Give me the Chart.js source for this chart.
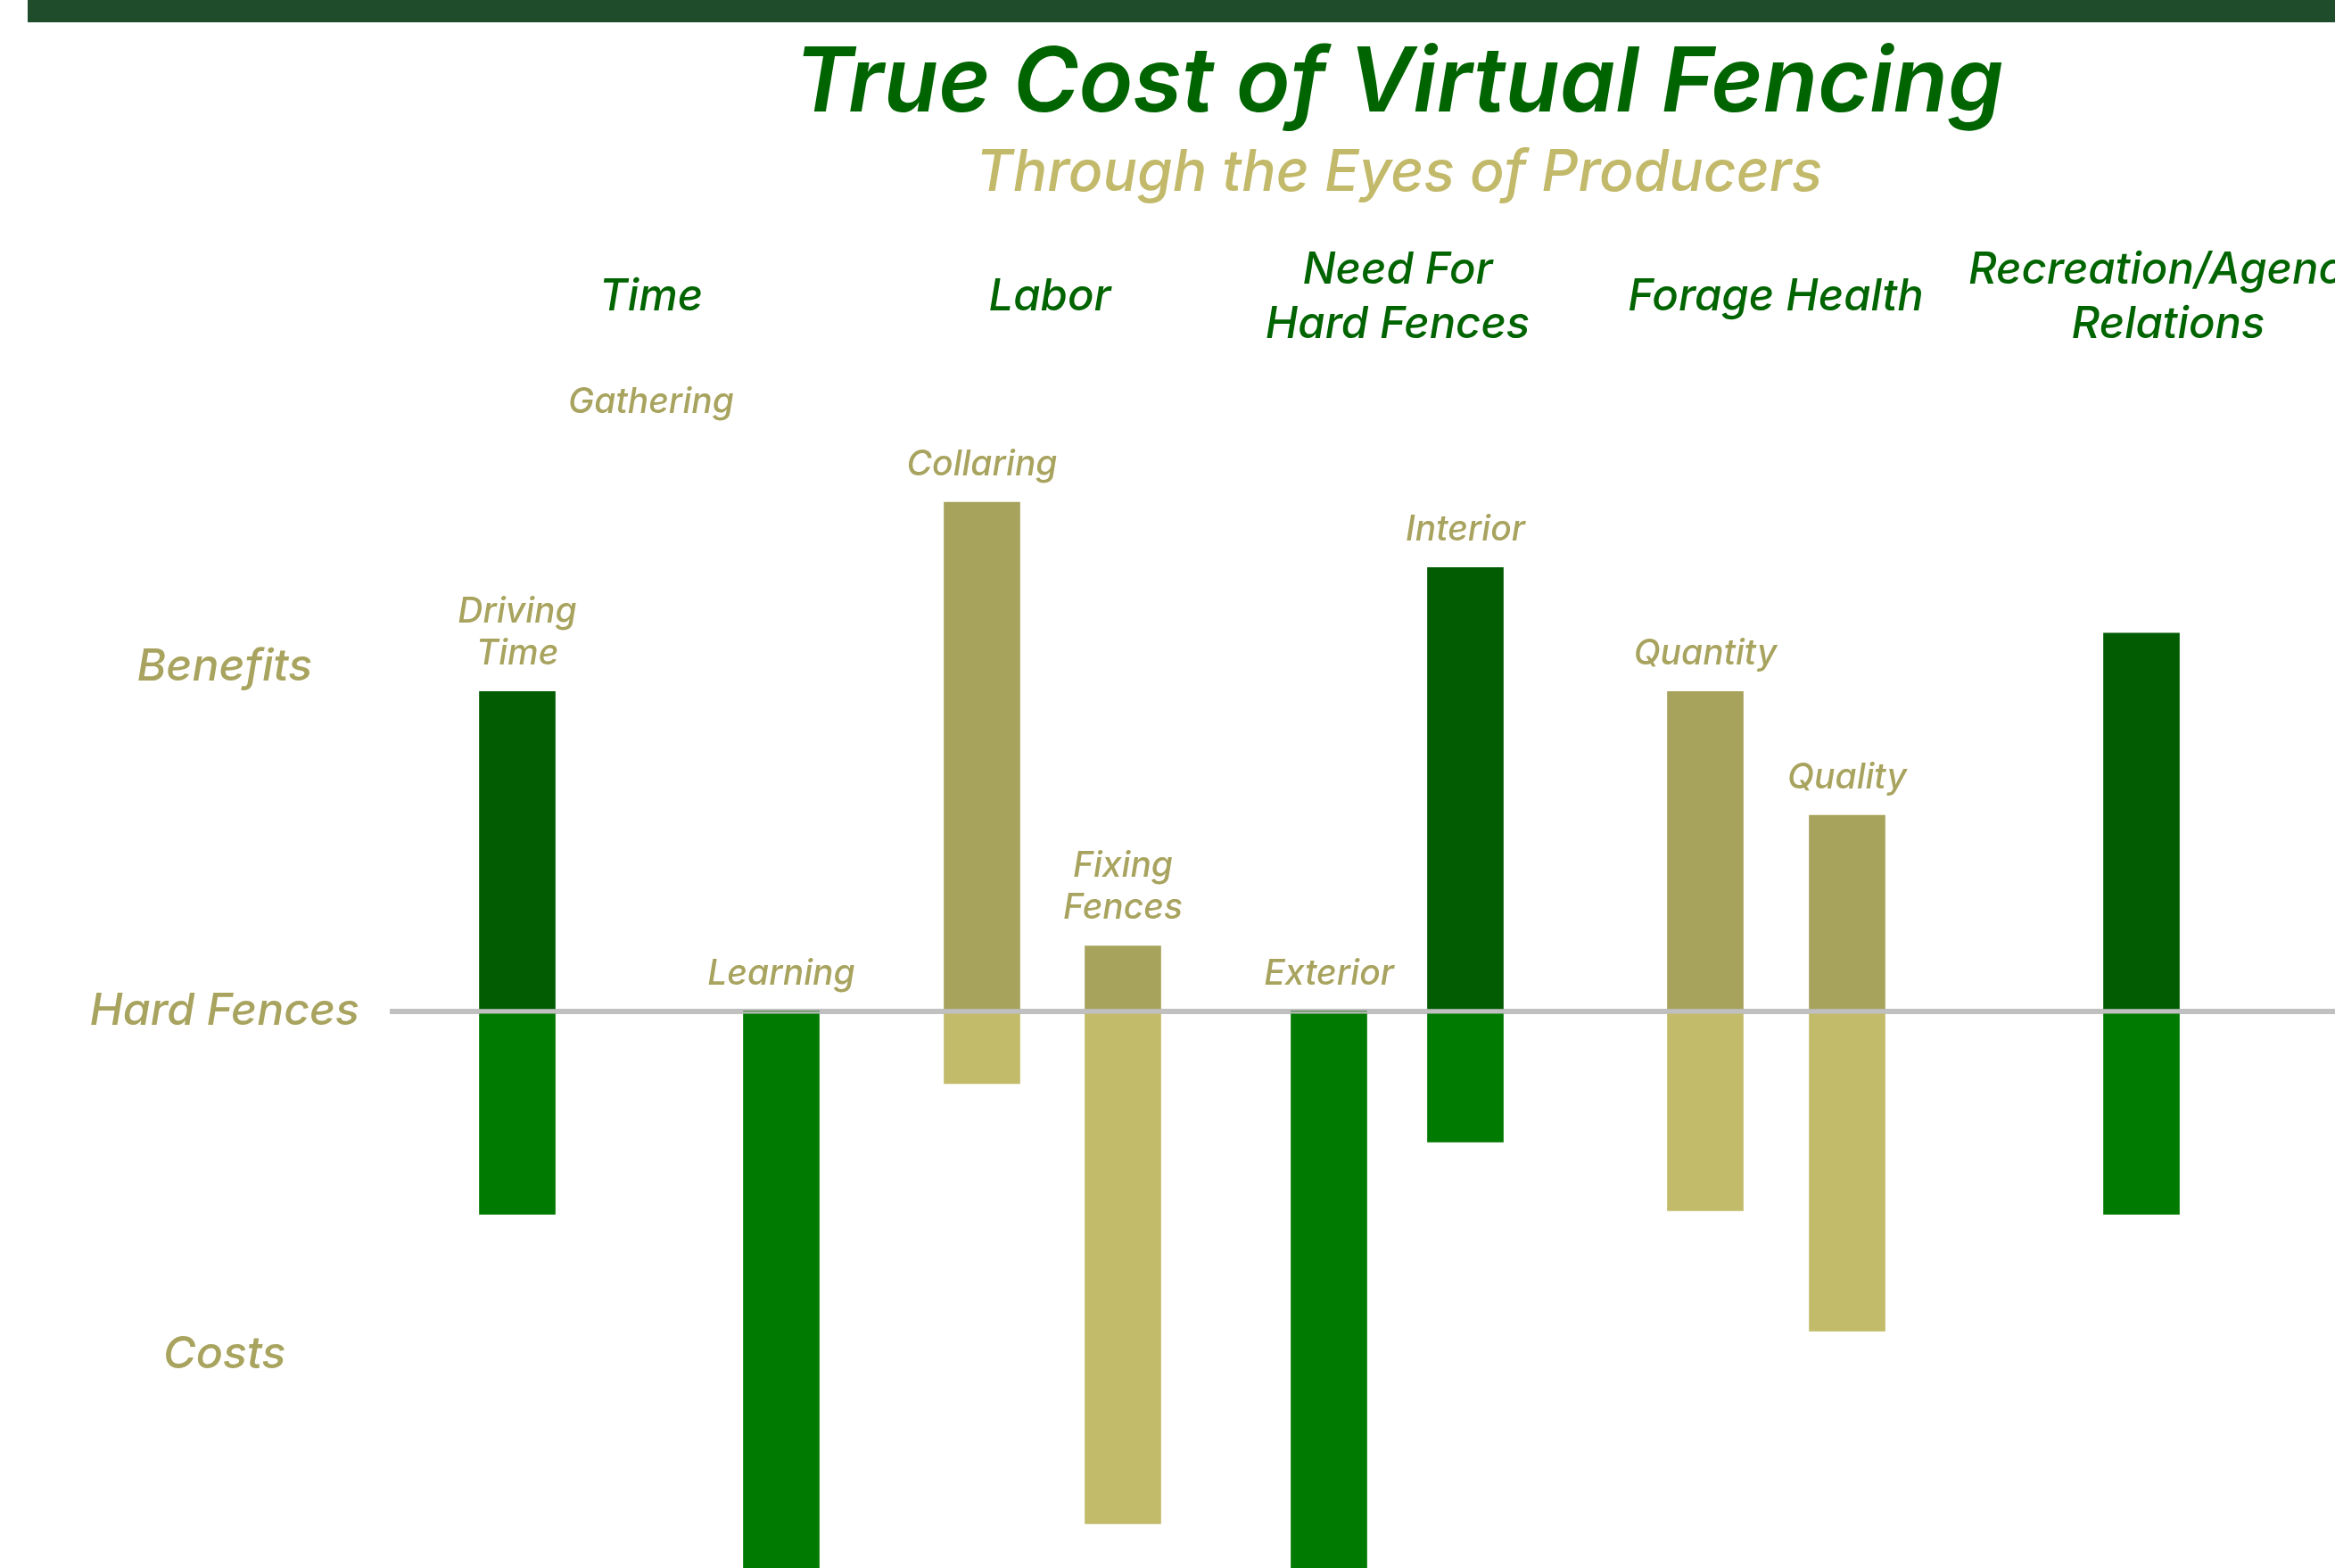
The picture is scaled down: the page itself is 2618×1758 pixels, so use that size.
<!DOCTYPE html>
<html>
<head>
<meta charset="utf-8">
<title>True Cost of Virtual Fencing</title>
<script src="https://cdn.jsdelivr.net/npm/chart.js@4.4.1/dist/chart.umd.min.js"></script>
<style>
  html, body { margin: 0; padding: 0; background: #fff; overflow: hidden; }
  body { width: 2618px; height: 1758px; position: relative; }
  #chart { position: absolute; left: 0; top: 0; }
  #top-band { position: absolute; left: 31px; top: 0; right: 0; height: 25px; background: #1f4d2b; }
</style>
</head>
<body>
<canvas id="chart" width="3137" height="1905"></canvas>
<div id="top-band"></div>
<script>
// one entry per bar, left to right
const barNames = [['Driving', 'Time'], 'Gathering', 'Learning', 'Collaring', ['Fixing', 'Fences'], 'Exterior', 'Interior', 'Quantity', 'Quality', ''];
const barGroups = ['Time', 'Time', 'Time', 'Labor', 'Labor', 'Need For Hard Fences', 'Need For Hard Fences', 'Forage Health', 'Forage Health', 'Recreation/Agency Relations'];
const barPositions = [1.43, 2.93, 4.39, 6.64, 8.22, 10.53, 12.06, 14.75, 16.34, 19.64];
const benefitValues = [0.93, 1.66, 0, 1.48, 0.19, 0, 1.29, 0.93, 0.57, 1.1];
const costValues = [-0.59, 0, -1.9, -0.21, -1.49, -1.9, -0.38, -0.58, -0.93, -0.59];
const barVisible = [true, false, true, true, true, true, true, true, true, true];

// the headers across the top
const categoryNames = [['Time'], ['Labor'], ['Need For', 'Hard Fences'], ['Forage Health'], ['Recreation/Agency', 'Relations']];
const categoryPositions = [2.93, 7.4, 11.3, 15.54, 19.94];

const yTickValues = [1, 0, -1];
const yTickLabels = ['Benefits', 'Hard Fences', 'Costs'];

const khakiGroups = ['Labor', 'Forage Health'];

const darkGreen = '#025c02';
const green = '#007a00';
const khakiDark = '#a8a35c';
const khakiLight = '#c2bb6a';
const labelColor = '#a8a35e';
const headerColor = '#006400';

function benefitColor(i) {
    if (!barVisible[i]) return 'rgba(0,0,0,0)';
    return khakiGroups.includes(barGroups[i]) ? khakiDark : darkGreen;
}

function costColor(i) {
    if (!barVisible[i]) return 'rgba(0,0,0,0)';
    return khakiGroups.includes(barGroups[i]) ? khakiLight : green;
}

// names written above each bar
const barLabelPlugin = {
    id: 'barLabels',
    afterDatasetsDraw(chart) {
        const ctx = chart.ctx;
        const meta = chart.getDatasetMeta(0);
        ctx.save();
        ctx.font = 'italic 500 39px Inter';
        ctx.fillStyle = labelColor;
        ctx.textAlign = 'center';
        ctx.textBaseline = 'middle';
        meta.data.forEach(function (bar, i) {
            const lines = [].concat(barNames[i]);
            const top = Math.min(bar.y, bar.base);
            lines.forEach(function (line, j) {
                ctx.fillText(line, bar.x, top - 42 - (lines.length - 1 - j) * 47);
            });
        });
        ctx.restore();
    }
};

Chart.defaults.font.family = 'Inter';

new Chart(document.getElementById('chart').getContext('2d'), {
    type: 'bar',
    data: {
        datasets: [
            {
                label: 'Benefits',
                data: barPositions.map((x, i) => ({ x: x, y: benefitValues[i] })),
                backgroundColor: barPositions.map((x, i) => benefitColor(i)),
                barThickness: 85,
                grouped: false,
            },
            {
                label: 'Costs',
                data: barPositions.map((x, i) => ({ x: x, y: costValues[i] })),
                backgroundColor: barPositions.map((x, i) => costColor(i)),
                barThickness: 85,
                grouped: false,
            },
        ],
    },
    options: {
        responsive: false,
        animation: false,
        devicePixelRatio: 1,
        layout: { padding: 0 },
        plugins: {
            legend: { display: false },
            tooltip: { enabled: false },
            title: {
                display: true,
                text: 'True Cost of Virtual Fencing',
                color: headerColor,
                font: { family: 'Inter', style: 'italic', weight: 600, size: 100, lineHeight: 1.22 },
                padding: { top: 34, bottom: 0 },
            },
            subtitle: {
                display: true,
                text: 'Through the Eyes of Producers',
                color: '#c2b96a',
                font: { family: 'Inter', style: 'italic', weight: 500, size: 64, lineHeight: 1.2 },
                padding: { top: 0, bottom: 0 },
            },
        },
        scales: {
            x: {
                type: 'linear',
                position: 'top',
                min: 0,
                max: 27,
                offset: false,
                afterBuildTicks: s => { s.ticks = categoryPositions.map(v => ({ value: v })); },
                afterFit: s => { s.height = 207; },
                border: { display: false },
                grid: { display: false, drawTicks: false },
                ticks: {
                    autoSkip: false,
                    maxRotation: 0,
                    minRotation: 0,
                    padding: 76,
                    crossAlign: 'center',
                    color: headerColor,
                    font: { family: 'Inter', style: 'italic', weight: 500, size: 49, lineHeight: 1.23 },
                    callback: (v, i) => categoryNames[i],
                },
            },
            y: {
                min: -2,
                max: 1.8,
                afterBuildTicks: s => { s.ticks = yTickValues.map(v => ({ value: v })); },
                afterFit: s => {
                    s.width = 437;
                    s.paddingTop = 0;
                    s.paddingBottom = 0;
                },
                border: { display: false },
                grid: {
                    drawTicks: false,
                    lineWidth: 6,
                    color: c => (c.tick && c.tick.value === 0 ? '#c0c0c0' : 'rgba(0,0,0,0)'),
                },
                ticks: {
                    padding: 34,
                    crossAlign: 'center',
                    color: labelColor,
                    font: { family: 'Inter', style: 'italic', weight: 500, size: 50 },
                    callback: (v, i) => yTickLabels[i],
                },
            },
        },
    },
    plugins: [barLabelPlugin],
});
</script>
</body>
</html>
